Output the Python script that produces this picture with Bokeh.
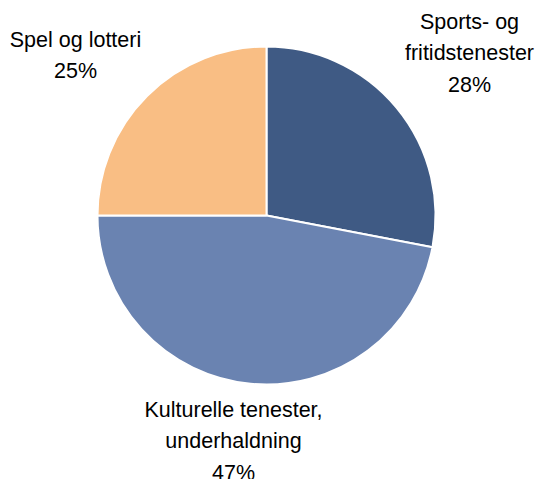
import math
from bokeh.plotting import figure
from bokeh.models import Range1d, ColumnDataSource
from bokeh.core.properties import value
from bokeh.embed import file_html
from bokeh.resources import INLINE

# Data
categories = ["Sports- og\nfritidstenester", "Kulturelle tenester,\nunderhaldning", "Spel og lotteri"]
shares = [28, 47, 25]
colors = ["#3F5A84", "#6A83B1", "#F9BE84"]

# Layout (screen-like coordinates, y measured up from bottom)
W, H = 536, 479
cx, cy = 266, H - 215
R = 169
label_pos = [(469, H - 53), (233, H - 441), (75, H - 55)]

total = sum(shares)
starts, ends = [], []
a = math.pi / 2
for s in shares:
    starts.append(a)
    a -= s / total * 2 * math.pi
    ends.append(a)

p = figure(width=W, height=H, output_backend="svg", toolbar_location=None,
           x_range=Range1d(0, W), y_range=Range1d(0, H), min_border=0)
p.axis.visible = False
p.grid.visible = False
p.outline_line_color = None
p.background_fill_color = "white"

src = ColumnDataSource(dict(x=[cx] * 3, y=[cy] * 3, start=starts, end=ends, color=colors))
p.wedge(x="x", y="y", radius=R, radius_units="screen", start_angle="start", end_angle="end",
        direction="clock", fill_color="color", line_color="white", line_width=2, source=src)

labels = [f"{c}\n{s}%" for c, s in zip(categories, shares)]
lsrc = ColumnDataSource(dict(x=[q[0] for q in label_pos], y=[q[1] for q in label_pos], t=labels))
p.text(x="x", y="y", text="t", source=lsrc, text_align="center", text_baseline="middle",
       text_font=value("Liberation Sans"), text_font_size="21.5px", text_line_height=1.3,
       text_color="#000000")

open("out.html", "w").write(file_html(p, INLINE))
